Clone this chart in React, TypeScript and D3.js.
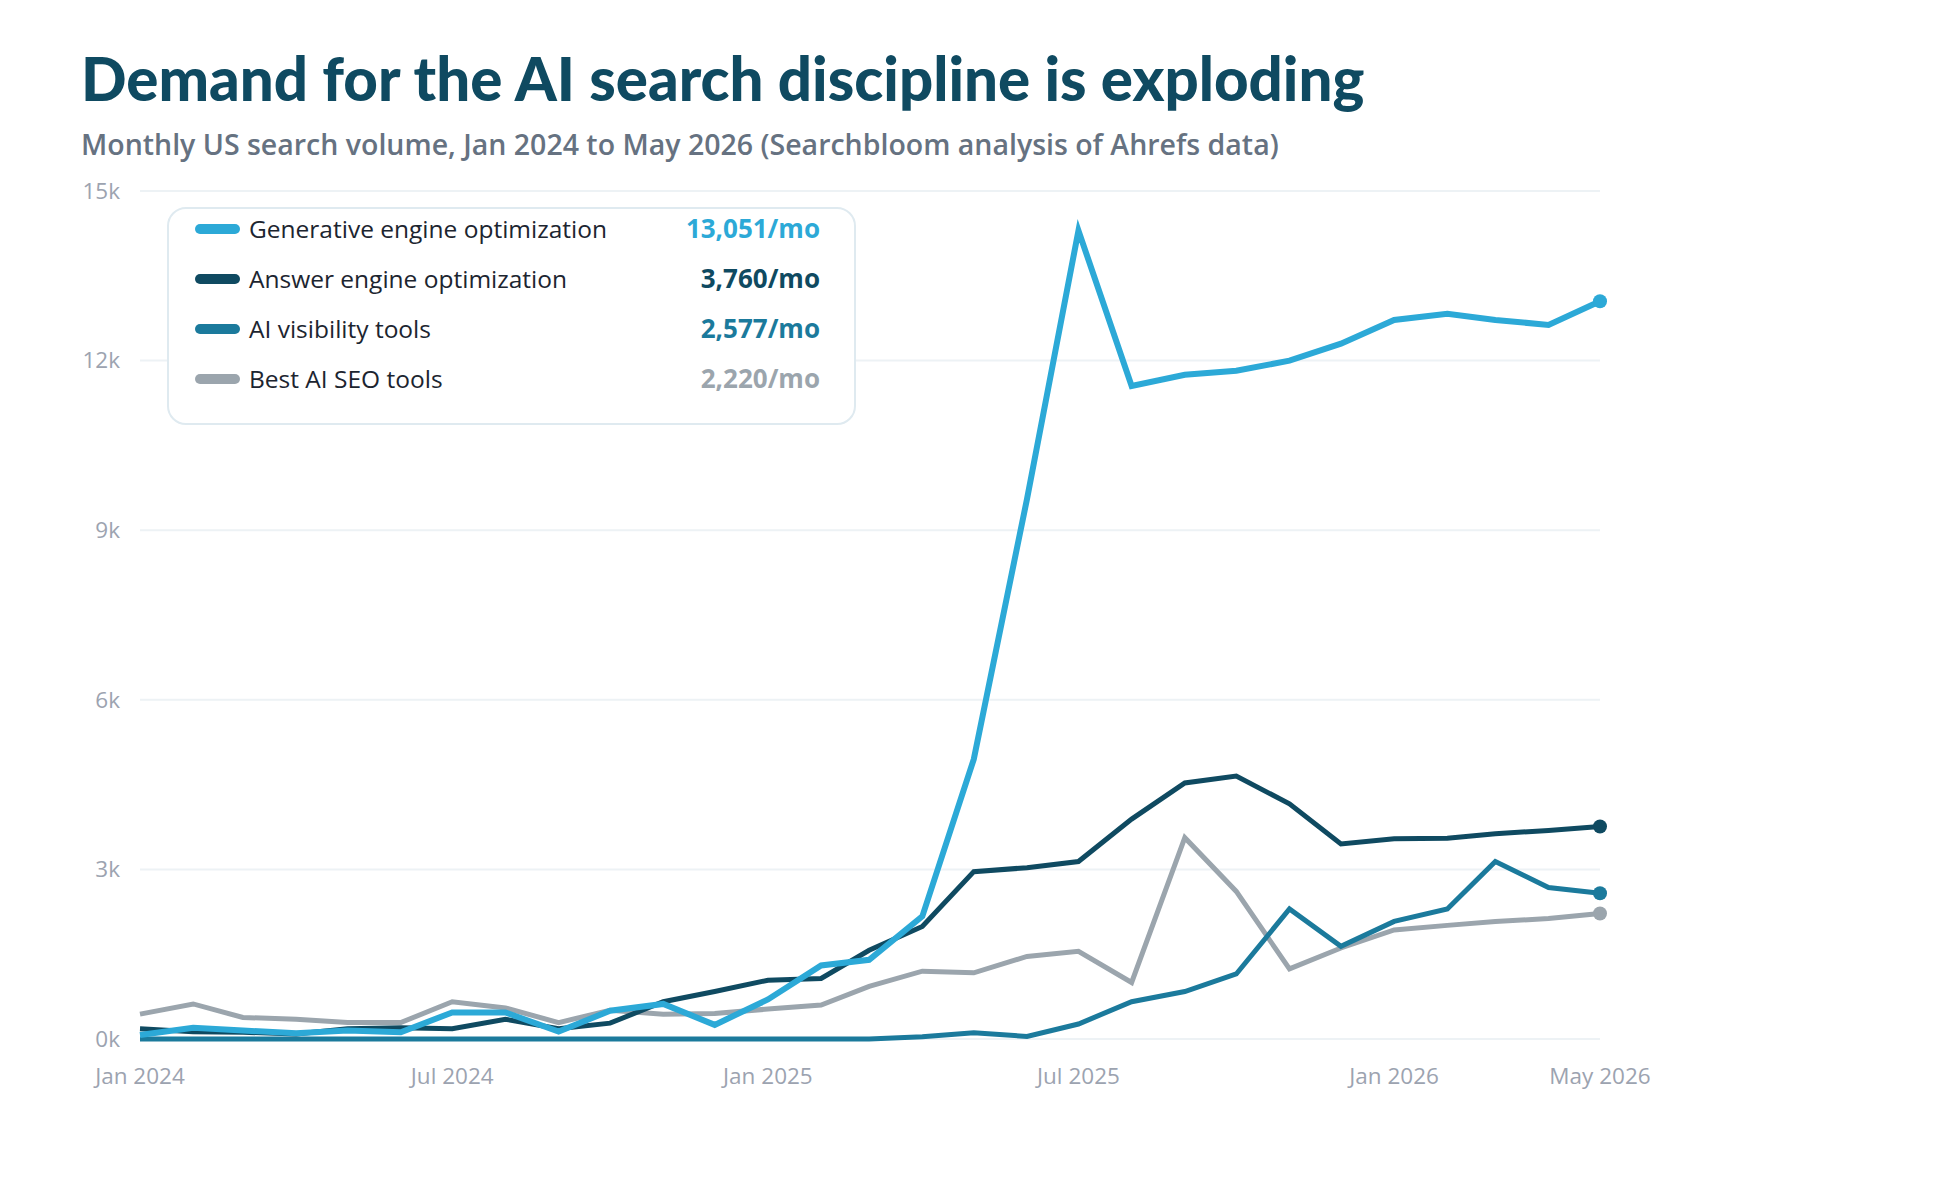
import React from "react";
import { scaleLinear, scaleUtc, line, format, utcMonth } from "d3";

// monthly US search volume, Jan 2024 .. May 2026
const geo = [
  70, 200, 150, 100, 150, 120, 470, 470, 130, 500, 620, 250, 700, 1300, 1400,
  2170, 4950, 9550, 14300, 11550, 11750, 11820, 12000, 12300, 12720, 12830,
  12720, 12630, 13051,
];
const aeo = [
  180, 130, 120, 90, 180, 200, 180, 350, 180, 280, 660, 840, 1040, 1070, 1570,
  1990, 2960, 3030, 3140, 3890, 4530, 4650, 4160, 3450, 3540, 3550, 3630, 3690,
  3760,
];
const visibility = [
  0, 0, 0, 0, 0, 0, 0, 0, 0, 0, 0, 0, 0, 0, 0, 40, 110, 45, 265, 660, 840, 1150,
  2300, 1640, 2080, 2300, 3140, 2680, 2577,
];
const seoTools = [
  440, 620, 380, 350, 290, 290, 660, 550, 290, 510, 440, 450, 530, 600, 930,
  1200, 1170, 1460, 1550, 1000, 3560, 2610, 1240, 1610, 1930, 2010, 2080, 2130,
  2220,
];

const seriesNames = [
  "Generative engine optimization",
  "Answer engine optimization",
  "AI visibility tools",
  "Best AI SEO tools",
];
const seriesColors = ["#2ca9d7", "#0f4a61", "#1b7a9c", "#9ba5ad"];
const yTicks = [0, 3000, 6000, 9000, 12000, 15000];
const xTickMonths = [0, 6, 12, 18, 24, 28];

const months = utcMonth.range(
  new Date(Date.UTC(2024, 0, 1)),
  new Date(Date.UTC(2026, 5, 1))
);
const monthFmt = (d: Date) =>
  d.toLocaleDateString("en-US", { month: "short", year: "numeric", timeZone: "UTC" });

const font = "'Open Sans', 'Noto Sans', sans-serif";

const App = () => {
  const all = [geo, aeo, visibility, seoTools];

  const xScale = scaleUtc()
    .domain([months[0], months[months.length - 1]])
    .range([140, 1600]);
  const yScale = scaleLinear().domain([0, 15000]).range([1039, 191]);

  const path = line<number>()
    .x((_, i) => xScale(months[i]))
    .y((v) => yScale(v));

  const fmt = format(",");

  return (
    <svg
      width={1960}
      height={1200}
      style={{ position: "absolute", left: 0, top: 0, background: "#fff" }}
    >
      <text
        x={81}
        y={101}
        fontFamily="Lato, sans-serif"
        fontWeight={900}
        fontSize={60}
        fill="#0f4a61"
      >
        Demand for the AI search discipline is exploding
      </text>
      <text
        x={81}
        y={155}
        fontFamily={font}
        fontWeight={600}
        fontSize={28.5}
        fill="#667281"
      >
        Monthly US search volume, Jan 2024 to May 2026 (Searchbloom analysis of
        Ahrefs data)
      </text>

      {/* grid + y axis */}
      {yTicks.map((t) => (
        <g key={t}>
          <line
            x1={140}
            x2={1600}
            y1={yScale(t)}
            y2={yScale(t)}
            stroke="#edf2f5"
            strokeWidth={2}
          />
          <text
            x={120}
            y={yScale(t)}
            dy="0.35em"
            textAnchor="end"
            fontFamily={font}
            fontSize={22.5}
            fill="#9ca3b0"
          >
            {t / 1000 + "k"}
          </text>
        </g>
      ))}

      {xTickMonths.map((i) => (
        <text
          key={i}
          x={xScale(months[i])}
          y={1084}
          textAnchor="middle"
          fontFamily={font}
          fontSize={22.5}
          fill="#9ca3b0"
        >
          {monthFmt(months[i])}
        </text>
      ))}

      {/* lines, drawn back to front */}
      {[3, 2, 1, 0].map((k) => (
        <g key={k}>
          <path
            d={path(all[k]) || ""}
            fill="none"
            stroke={seriesColors[k]}
            strokeWidth={k === 0 ? 6 : 5}
            strokeLinejoin="miter"
          />
          <circle
            cx={xScale(months[months.length - 1])}
            cy={yScale(all[k][all[k].length - 1])}
            r={7}
            fill={seriesColors[k]}
          />
        </g>
      ))}

      {/* legend */}
      <rect
        x={168}
        y={208}
        width={687}
        height={216}
        rx={18}
        fill="#fff"
        stroke="#dfeaf0"
        strokeWidth={2}
      />
      {seriesNames.map((name, k) => (
        <g key={name} transform={`translate(0, ${229 + k * 50})`}>
          <line
            x1={200}
            x2={235}
            y1={0}
            y2={0}
            stroke={seriesColors[k]}
            strokeWidth={10}
            strokeLinecap="round"
          />
          <text
            x={249}
            y={0}
            dy="0.35em"
            fontFamily={font}
            fontSize={24.5}
            fontWeight={500}
            fill="#1c2530"
          >
            {name}
          </text>
          <text
            x={820}
            y={0}
            dy="0.35em"
            textAnchor="end"
            fontFamily={font}
            fontSize={26}
            fontWeight={700}
            fill={seriesColors[k]}
          >
            {fmt(all[k][all[k].length - 1]) + "/mo"}
          </text>
        </g>
      ))}
    </svg>
  );
};

export default App;
